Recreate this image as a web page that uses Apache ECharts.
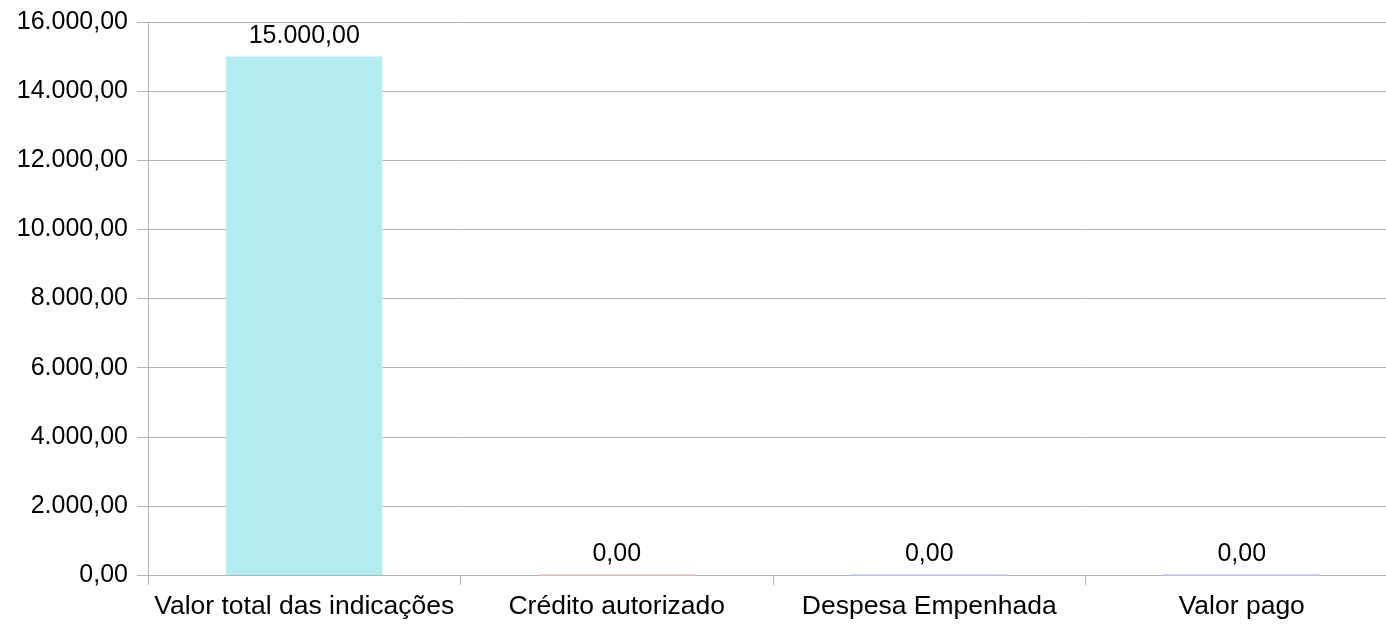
<!DOCTYPE html>
<html>
<head>
<meta charset="utf-8">
<script src="https://cdn.jsdelivr.net/npm/echarts@6/dist/echarts.min.js"></script>
<style>
  html, body { margin: 0; padding: 0; background: #ffffff; overflow: hidden; }
  #chart { width: 1398px; height: 625px; }
</style>
</head>
<body>
<div id="chart"></div>
<script>
// Budget summary: indicated amount versus authorized, committed and paid
const categories = ['Valor total das indicações', 'Crédito autorizado', 'Despesa Empenhada', 'Valor pago'];
const values = [15000, 0, 0, 0];
const barColors = ['#b2ebf2', '#e6c5c0', '#b8c6e8', '#b8c6e8'];

// Brazilian number format: thousands with ".", decimals with ","
function fmtBR(v) {
  const parts = Number(v).toFixed(2).split('.');
  parts[0] = parts[0].replace(/\B(?=(\d{3})+(?!\d))/g, '.');
  return parts[0] + ',' + parts[1];
}

const font = 'Liberation Sans, Arial, sans-serif';
const chart = echarts.init(document.getElementById('chart'));

chart.setOption({
  animation: false,
  grid: { left: 148, right: 0, top: 22, bottom: 50, containLabel: false },
  xAxis: {
    type: 'category',
    data: categories,
    axisLine: { lineStyle: { color: '#b3b3b3', width: 1 } },
    axisTick: { show: true, interval: 0, length: 10, lineStyle: { color: '#b3b3b3' } },
    axisLabel: { interval: 0, color: '#000000', fontFamily: font, fontSize: 26.5, margin: 18 }
  },
  yAxis: {
    type: 'value',
    min: 0,
    max: 16000,
    interval: 2000,
    axisLine: { show: true, lineStyle: { color: '#b3b3b3', width: 1 } },
    axisTick: { show: true, length: 11, lineStyle: { color: '#b3b3b3' } },
    splitLine: { lineStyle: { color: '#b3b3b3', width: 1 } },
    axisLabel: { color: '#000000', fontFamily: font, fontSize: 25, margin: 20, formatter: fmtBR }
  },
  series: [{
    type: 'bar',
    barWidth: '50%',
    data: values.map((v, i) => ({
      value: v,
      itemStyle: {
        color: barColors[i],
        borderColor: v === 0 ? barColors[i] : 'transparent',
        borderWidth: v === 0 ? 1 : 0
      }
    })),
    label: {
      show: true,
      position: 'top',
      distance: 8,
      color: '#000000',
      fontFamily: font,
      fontSize: 25,
      formatter: p => fmtBR(p.value)
    }
  }]
});
</script>
</body>
</html>
